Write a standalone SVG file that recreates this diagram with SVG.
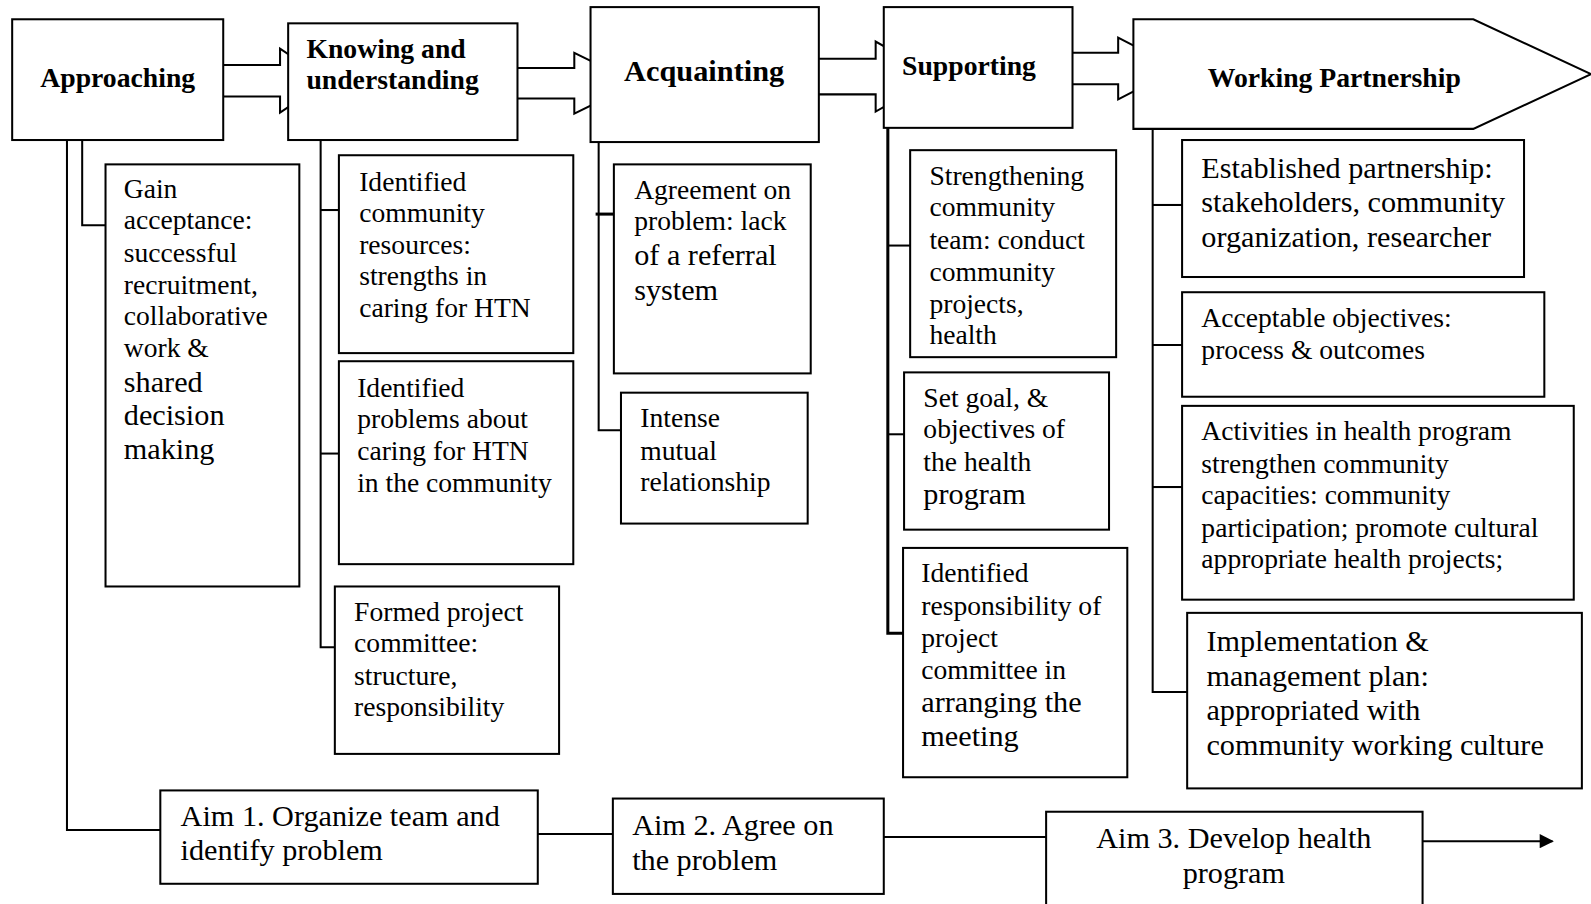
<svg xmlns="http://www.w3.org/2000/svg" width="1591" height="904" viewBox="0 0 1591 904">
<defs>
<style>
.box{fill:#fff;stroke:#000;stroke-width:2}
.ln{fill:none;stroke:#000;stroke-width:2}
.h{font-family:"Liberation Serif","Times New Roman",serif;font-weight:bold;font-size:27.3px;fill:#000}
.t{font-family:"Liberation Serif","Times New Roman",serif;font-size:27.2px;fill:#000}
.L{font-size:29.8px}
</style>
<marker id="ah" viewBox="0 0 10 10" refX="9" refY="5" markerWidth="16" markerHeight="14" orient="auto" markerUnits="userSpaceOnUse">
<path d="M0,0 L10,5 L0,10 z" fill="#000"/>
</marker>
</defs>
<rect width="1591" height="904" fill="#fff"/>
<g transform="scale(1.01467)">

<g id="connectors">
<path class="box" d="M218,64 H276 V48 L323,79.5 L276,111 V95 H218 Z"/>
<path class="box" d="M508,67 H566 V52 L627,82 L566,112 V97 H508 Z"/>
<path class="box" d="M805,58 H863 V41 L924,75.5 L863,110 V93 H805 Z"/>
<path class="box" d="M1055,52 H1102 V37 L1161,67.5 L1102,98 V83 H1055 Z"/>
<path class="ln" d="M66,138 V818 H158"/>
<path class="ln" d="M81,138 V222 H104"/>
<path class="ln" d="M316,138 V638 H330"/>
<path class="ln" d="M316,207 H334"/>
<path class="ln" d="M316,447 H334"/>
<path class="ln" d="M590,140 V424 H612"/>
<path class="ln" d="M587,211 H605" style="stroke-width:3"/>
<path class="ln" d="M875,126 V624 H890" style="stroke-width:3"/>
<path class="ln" d="M875,242 H897"/>
<path class="ln" d="M875,428 H891"/>
<path class="ln" d="M1136,127 V682 H1170"/>
<path class="ln" d="M1136,202 H1165"/>
<path class="ln" d="M1136,340 H1165"/>
<path class="ln" d="M1136,480 H1165"/>
<path class="ln" d="M530,822 H604"/>
<path class="ln" d="M871,825 H1031"/>
<path class="ln" d="M1402,829 H1530" marker-end="url(#ah)"/>
</g>

<g id="approaching">
<rect class="box" x="12" y="19" width="208" height="119"/>
<text class="h" x="116" y="86" text-anchor="middle">Approaching</text>
</g>
<g id="knowing">
<rect class="box" x="284" y="23" width="226" height="115"/>
<text class="h" x="302" y="57">Knowing and</text>
<text class="h" x="302" y="88">understanding</text>
</g>
<g id="acquainting">
<rect class="box" x="582" y="7" width="225" height="133"/>
<text class="h" x="694" y="80" text-anchor="middle" style="font-size:29.9px">Acquainting</text>
</g>
<g id="supporting">
<rect class="box" x="871" y="7" width="186" height="119"/>
<text class="h" x="889" y="74">Supporting</text>
</g>
<g id="working">
<path class="box" d="M1117,19 H1452 L1568,73 L1452,127 H1117 Z"/>
<text class="h" x="1315" y="86" text-anchor="middle">Working Partnership</text>
</g>

<g id="gain">
<rect class="box" x="104" y="162" width="191" height="416"/>
<text class="t" x="122" y="195">Gain</text>
<text class="t" x="122" y="226">acceptance:</text>
<text class="t" x="122" y="258">successful</text>
<text class="t" x="122" y="290">recruitment,</text>
<text class="t" x="122" y="320">collaborative</text>
<text class="t" x="122" y="352">work &amp;</text>
<text class="t L" x="122" y="386">shared</text>
<text class="t L" x="122" y="419">decision</text>
<text class="t L" x="122" y="452">making</text>
</g>

<g id="k1">
<rect class="box" x="334" y="153" width="231" height="195"/>
<text class="t" x="354" y="188">Identified</text>
<text class="t" x="354" y="219">community</text>
<text class="t" x="354" y="250">resources:</text>
<text class="t" x="354" y="281">strengths in</text>
<text class="t" x="354" y="312">caring for HTN</text>
</g>
<g id="k2">
<rect class="box" x="334" y="356" width="231" height="200"/>
<text class="t" x="352" y="391">Identified</text>
<text class="t" x="352" y="422">problems about</text>
<text class="t" x="352" y="453">caring for HTN</text>
<text class="t" x="352" y="485">in the community</text>
</g>
<g id="k3">
<rect class="box" x="330" y="578" width="221" height="165"/>
<text class="t" x="349" y="612">Formed project</text>
<text class="t" x="349" y="643">committee:</text>
<text class="t" x="349" y="675">structure,</text>
<text class="t" x="349" y="706">responsibility</text>
</g>

<g id="a1">
<rect class="box" x="605" y="162" width="194" height="206"/>
<text class="t" x="625" y="196">Agreement on</text>
<text class="t" x="625" y="227">problem: lack</text>
<text class="t L" x="625" y="261">of a referral</text>
<text class="t L" x="625" y="296">system</text>
</g>
<g id="a2">
<rect class="box" x="612" y="387" width="184" height="129"/>
<text class="t" x="631" y="421">Intense</text>
<text class="t" x="631" y="453">mutual</text>
<text class="t" x="631" y="484">relationship</text>
</g>

<g id="s1">
<rect class="box" x="897" y="148" width="203" height="204"/>
<text class="t" x="916" y="182">Strengthening</text>
<text class="t" x="916" y="213">community</text>
<text class="t" x="916" y="245">team: conduct</text>
<text class="t" x="916" y="277">community</text>
<text class="t" x="916" y="308">projects,</text>
<text class="t" x="916" y="339">health</text>
</g>
<g id="s2">
<rect class="box" x="891" y="367" width="202" height="155"/>
<text class="t" x="910" y="401">Set goal, &amp;</text>
<text class="t" x="910" y="432">objectives of</text>
<text class="t" x="910" y="464">the health</text>
<text class="t L" x="910" y="497">program</text>
</g>
<g id="s3">
<rect class="box" x="890" y="540" width="221" height="226"/>
<text class="t" x="908" y="574">Identified</text>
<text class="t" x="908" y="606">responsibility of</text>
<text class="t" x="908" y="638">project</text>
<text class="t" x="908" y="669">committee in</text>
<text class="t L" x="908" y="702">arranging the</text>
<text class="t L" x="908" y="735">meeting</text>
</g>

<g id="w1">
<rect class="box" x="1165" y="138" width="337" height="135"/>
<text class="t L" x="1184" y="175">Established partnership:</text>
<text class="t L" x="1184" y="209">stakeholders, community</text>
<text class="t L" x="1184" y="243">organization, researcher</text>
</g>
<g id="w2">
<rect class="box" x="1165" y="288" width="357" height="103"/>
<text class="t" x="1184" y="322">Acceptable objectives:</text>
<text class="t" x="1184" y="354">process &amp; outcomes</text>
</g>
<g id="w3">
<rect class="box" x="1165" y="400" width="386" height="191"/>
<text class="t" x="1184" y="434">Activities in health program</text>
<text class="t" x="1184" y="466">strengthen community</text>
<text class="t" x="1184" y="497">capacities: community</text>
<text class="t" x="1184" y="529">participation; promote cultural</text>
<text class="t" x="1184" y="560">appropriate health projects;</text>
</g>
<g id="w4">
<rect class="box" x="1170" y="604" width="389" height="173"/>
<text class="t L" x="1189" y="642">Implementation &amp;</text>
<text class="t L" x="1189" y="676">management plan:</text>
<text class="t L" x="1189" y="710">appropriated with</text>
<text class="t L" x="1189" y="744">community working culture</text>
</g>

<g id="aim1">
<rect class="box" x="158" y="779" width="372" height="92"/>
<text class="t L" x="178" y="814">Aim 1. Organize team and</text>
<text class="t L" x="178" y="848">identify problem</text>
</g>
<g id="aim2">
<rect class="box" x="604" y="787" width="267" height="94"/>
<text class="t L" x="623" y="823">Aim 2. Agree on</text>
<text class="t L" x="623" y="857">the problem</text>
</g>
<g id="aim3">
<rect class="box" x="1031" y="800" width="371" height="100"/>
<text class="t L" x="1216" y="836" text-anchor="middle">Aim 3. Develop health</text>
<text class="t L" x="1216" y="870" text-anchor="middle">program</text>
</g>
</g>
</svg>
